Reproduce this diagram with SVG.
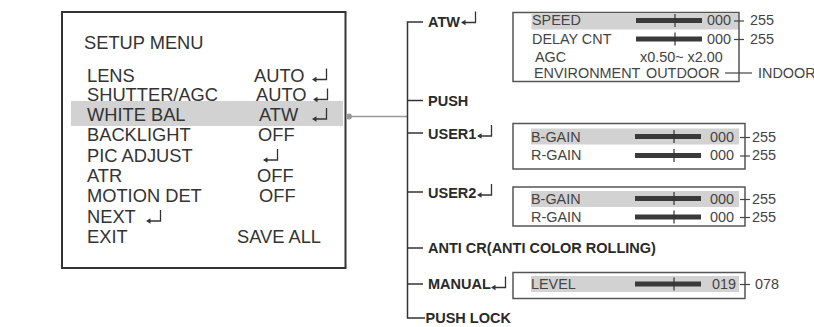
<svg xmlns="http://www.w3.org/2000/svg" width="814" height="327" viewBox="0 0 814 327">
<style>
.m{font-family:"Liberation Sans",Arial,sans-serif;font-size:18.3px;fill:#333}
.t{font-family:"Liberation Sans",Arial,sans-serif;font-size:14.5px;font-weight:bold;fill:#2a2a2a}
.b{font-family:"Liberation Sans",Arial,sans-serif;font-size:14.4px;fill:#444}
.hl{fill:#d2d2d2}
.box{fill:none;stroke:#555;stroke-width:1.5}
.ln{fill:none;stroke:#333;stroke-width:1.5}
.bar{fill:#3a3a3a}
.tick{stroke:#333;stroke-width:1.2}
.dash{stroke:#444;stroke-width:1.2}
</style>
<defs>
<g id="ret">
<path d="M14.5,-12.5 V-1.5 H3.5" fill="none" stroke="#333" stroke-width="1.3"/>
<path d="M0,-1.5 L4.5,-4.2 L4.5,1.2 Z" fill="#333"/>
</g>
<g id="slider">
<rect x="0" y="-2.5" width="66" height="5" class="bar"/>
<line x1="39" y1="-6.5" x2="39" y2="6.5" class="tick"/>
</g>
</defs>

<g id="setup-menu">
<rect x="62" y="12" width="283.5" height="256" fill="#fff" stroke="#333" stroke-width="2"/>
<rect x="71" y="101" width="272" height="25" class="hl"/>
<text x="84" y="48.5" class="m">SETUP MENU</text>
<text x="87" y="81.5" class="m">LENS</text>
<text x="254" y="81.5" class="m">AUTO</text>
<use href="#ret" x="312" y="81"/>
<text x="87" y="101" class="m">SHUTTER/AGC</text>
<text x="256" y="101" class="m">AUTO</text>
<use href="#ret" x="313" y="101"/>
<text x="87" y="120.5" class="m">WHITE BAL</text>
<text x="259" y="120.5" class="m">ATW</text>
<use href="#ret" x="312" y="120.5"/>
<text x="87" y="141" class="m">BACKLIGHT</text>
<text x="258" y="141" class="m">OFF</text>
<text x="87" y="161.5" class="m">PIC ADJUST</text>
<use href="#ret" x="263" y="161.5"/>
<text x="87" y="181.5" class="m">ATR</text>
<text x="257" y="181.5" class="m">OFF</text>
<text x="87" y="201.5" class="m">MOTION DET</text>
<text x="259" y="201.5" class="m">OFF</text>
<text x="87" y="222.5" class="m">NEXT</text>
<use href="#ret" x="146" y="222.5"/>
<text x="87" y="242.5" class="m">EXIT</text>
<text x="237" y="242.5" class="m">SAVE ALL</text>
</g>

<g id="connectors">
<circle cx="349" cy="116.5" r="3" fill="#999"/>
<line x1="349" y1="116.5" x2="407.5" y2="116.5" stroke="#999" stroke-width="1.5"/>
<path d="M423,22 H407.5 V318 H425" class="ln"/>
<line x1="407.5" y1="100.5" x2="423" y2="100.5" class="ln"/>
<line x1="407.5" y1="133" x2="423" y2="133" class="ln"/>
<line x1="407.5" y1="192" x2="423" y2="192" class="ln"/>
<line x1="407.5" y1="248" x2="423" y2="248" class="ln"/>
<line x1="407.5" y1="284" x2="423" y2="284" class="ln"/>
</g>

<g id="atw">
<text x="428" y="26.5" class="t">ATW</text>
<use href="#ret" x="461" y="24"/>
</g>
<g id="push"><text x="428" y="105.5" class="t">PUSH</text></g>
<g id="user1">
<text x="428" y="138.5" class="t">USER1</text>
<use href="#ret" x="477" y="137.5"/>
</g>
<g id="user2">
<text x="428" y="197.5" class="t">USER2</text>
<use href="#ret" x="477" y="196.5"/>
</g>
<g id="anti-cr"><text x="428" y="253" class="t">ANTI CR(ANTI COLOR ROLLING)</text></g>
<g id="manual">
<text x="428" y="288.5" class="t">MANUAL</text>
<use href="#ret" x="491" y="289"/>
</g>
<g id="push-lock"><text x="425.5" y="323" class="t">PUSH LOCK</text></g>

<g id="atw-box">
<rect x="531.5" y="14" width="207.5" height="15.5" class="hl"/>
<rect x="513" y="12.5" width="226" height="69" class="box"/>
<text x="532" y="25" class="b">SPEED</text>
<use href="#slider" x="636" y="20.5"/>
<text x="707" y="25" class="b">000</text>
<line x1="734" y1="21" x2="744" y2="21" class="dash"/>
<text x="750" y="25" class="b">255</text>
<text x="532" y="43.5" class="b">DELAY CNT</text>
<use href="#slider" x="636" y="39"/>
<text x="707" y="43.5" class="b">000</text>
<line x1="734" y1="39.5" x2="744" y2="39.5" class="dash"/>
<text x="750" y="43.5" class="b">255</text>
<text x="535" y="62" class="b">AGC</text>
<text x="640" y="62" class="b">x0.50~ x2.00</text>
<text x="534" y="77.5" class="b">ENVIRONMENT</text>
<text x="646" y="77.5" class="b">OUTDOOR</text>
<line x1="725" y1="73" x2="752" y2="73" class="dash"/>
<text x="758" y="77.5" class="b">INDOOR</text>
</g>

<g id="user1-box">
<rect x="531" y="128.5" width="208" height="16" class="hl"/>
<rect x="513" y="123.5" width="232" height="45.5" class="box"/>
<text x="531" y="141.5" class="b">B-GAIN</text>
<use href="#slider" x="635" y="136.5"/>
<text x="710" y="141.5" class="b">000</text>
<line x1="740" y1="137.5" x2="750" y2="137.5" class="dash"/>
<text x="752" y="141.5" class="b">255</text>
<text x="531" y="160" class="b">R-GAIN</text>
<use href="#slider" x="635" y="155.5"/>
<text x="710" y="160" class="b">000</text>
<line x1="740" y1="156" x2="750" y2="156" class="dash"/>
<text x="752" y="160" class="b">255</text>
</g>

<g id="user2-box">
<rect x="531" y="191" width="208" height="16" class="hl"/>
<rect x="513" y="187" width="232" height="39" class="box"/>
<text x="531" y="203.5" class="b">B-GAIN</text>
<use href="#slider" x="635" y="198.5"/>
<text x="710" y="203.5" class="b">000</text>
<line x1="740" y1="199.5" x2="750" y2="199.5" class="dash"/>
<text x="752" y="203.5" class="b">255</text>
<text x="531" y="221.5" class="b">R-GAIN</text>
<use href="#slider" x="635" y="217"/>
<text x="710" y="221.5" class="b">000</text>
<line x1="740" y1="217.5" x2="750" y2="217.5" class="dash"/>
<text x="752" y="221.5" class="b">255</text>
</g>

<g id="manual-box">
<rect x="531" y="276" width="208" height="16" class="hl"/>
<rect x="513" y="272.5" width="232" height="26" class="box"/>
<text x="531" y="288.5" class="b">LEVEL</text>
<use href="#slider" x="635" y="284"/>
<text x="712" y="288.5" class="b">019</text>
<line x1="740" y1="284.5" x2="750" y2="284.5" class="dash"/>
<text x="755" y="288.5" class="b">078</text>
</g>
</svg>
